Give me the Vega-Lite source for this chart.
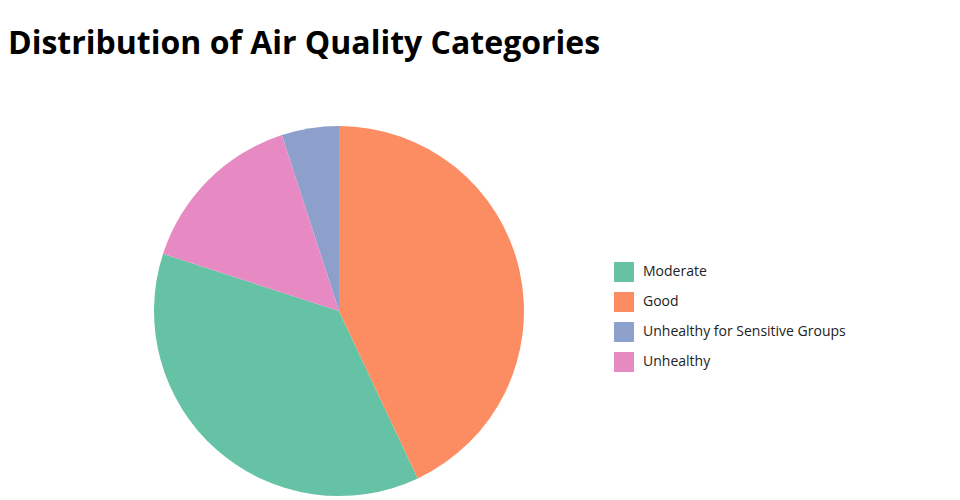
{
  "$schema": "https://vega.github.io/schema/vega-lite/v6.json",
  "autosize": "none",
  "width": 678,
  "height": 422,
  "padding": {"left": 0, "top": 100, "right": 282, "bottom": 0},
  "background": "white",
  "config": {"view": {"stroke": null}, "font": "Open Sans"},
  "title": {
    "text": "Distribution of Air Quality Categories",
    "anchor": "start",
    "frame": "group",
    "font": "Open Sans",
    "fontSize": 32,
    "fontWeight": "bold",
    "color": "#000000",
    "baseline": "alphabetic",
    "offset": 14,
    "dx": 8
  },
  "data": {
    "values": [
      {"category": "Moderate", "count": 37},
      {"category": "Good", "count": 43},
      {"category": "Unhealthy for Sensitive Groups", "count": 5},
      {"category": "Unhealthy", "count": 15}
    ]
  },
  "mark": {"type": "arc", "outerRadius": 185},
  "encoding": {
    "theta": {"field": "count", "type": "quantitative", "stack": true},
    "order": {"field": "count", "type": "quantitative", "sort": "descending"},
    "color": {
      "field": "category",
      "type": "nominal",
      "scale": {
        "domain": ["Moderate", "Good", "Unhealthy for Sensitive Groups", "Unhealthy"],
        "range": ["#66c2a5", "#fc8d62", "#8da0cb", "#e78ac3"]
      },
      "legend": {
        "title": null,
        "orient": "none",
        "legendX": 614,
        "legendY": 162,
        "symbolType": "square",
        "symbolSize": 400,
        "symbolStrokeWidth": 0,
        "symbolOpacity": 1,
        "labelFont": "Open Sans",
        "labelFontSize": 14,
        "labelColor": "#222222",
        "labelOffset": 9,
        "labelLimit": 400,
        "rowPadding": 10,
        "padding": 0
      }
    }
  }
}
